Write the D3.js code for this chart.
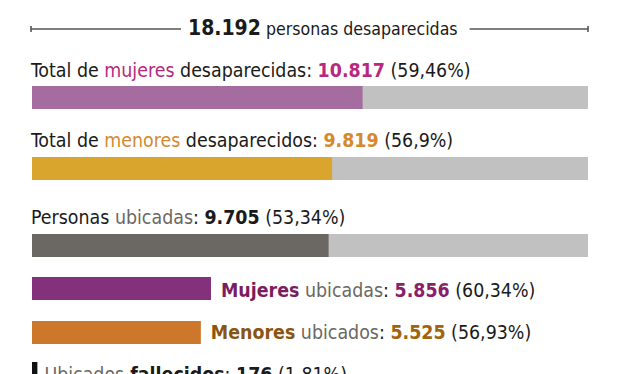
<!DOCTYPE html>
<html>
<head>
<meta charset="utf-8">
<script src="https://cdn.jsdelivr.net/npm/d3@7"></script>
<style>
  body { margin: 0; background: #fff; }
  svg text { font-family: 'Liberation Sans Narrow', 'DejaVu Sans Condensed', sans-serif; font-size: 19.4px; fill: #1a1a1a; }
  .b { font-weight: bold; }
</style>
</head>
<body>
<svg id="chart" width="640" height="374"></svg>
<script>
const total = 18192;
const barValues = [10817, 9819, 9705, 5856, 5525, 176];
const barPercents = ['59,46%', '56,9%', '53,34%', '60,34%', '56,93%', '1,81%'];
const barColors = ['#a56c9f', '#d9a52c', '#6b6762', '#82317a', '#cd772b', '#111111'];
// label pieces: [text, color, bold]
const labelParts = [
  [['Total de ', '#1a1a1a'], ['mujeres', '#b7297f'], [' desaparecidas: ', '#1a1a1a'], ['#v', '#b7297f', 1], ['#p', '#1a1a1a']],
  [['Total de ', '#1a1a1a'], ['menores', '#d4892f'], [' desaparecidos: ', '#1a1a1a'], ['#v', '#d4892f', 1], ['#p', '#1a1a1a']],
  [['Personas ', '#1a1a1a'], ['ubicadas', '#6b6762'], [': ', '#1a1a1a'], ['#v', '#1a1a1a', 1], ['#p', '#1a1a1a']],
  [['Mujeres', '#7a1d60', 1], [' ubicadas', '#6b6762'], [': ', '#1a1a1a'], ['#v', '#8a1f6a', 1], ['#p', '#1a1a1a']],
  [['Menores', '#8a5510', 1], [' ubicados', '#6b6762'], [': ', '#1a1a1a'], ['#v', '#a0640f', 1], ['#p', '#1a1a1a']],
  [['Ubicados', '#6b6762'], [' fallecidos', '#1a1a1a', 1], [': ', '#1a1a1a'], ['#v', '#1a1a1a', 1], ['#p', '#1a1a1a']]
];
const withTrack = [true, true, true, false, false, false];
const barTops = [86, 157, 234, 277, 321, 362];
const labelYs = [77, 147, 224, 297, 339, 381];

const fmt = d3.formatLocale({ decimal: ',', thousands: '.', grouping: [3], currency: ['', ''] }).format(',d');

const svg = d3.select('#chart');
const x = d3.scaleLinear().domain([0, total]).range([32, 588]);
const barH = 23;

// header
const head = svg.append('text').attr('x', 188).attr('y', 35);
head.append('tspan').attr('class', 'b').style('font-size', '21px').text(fmt(total));
head.append('tspan').style('font-size', '17.6px').text(' personas desaparecidas');
const hb = head.node().getBBox();
const lineY = 29;
[[x(0) - 1, hb.x - 7], [hb.x + hb.width + 12, x(total)]].forEach(([a, b]) => {
  svg.append('line').attr('x1', a).attr('x2', b).attr('y1', lineY).attr('y2', lineY)
    .attr('stroke', '#555').attr('stroke-width', 1.6);
});
[x(0) - 1, x(total)].forEach(px => {
  svg.append('line').attr('x1', px).attr('x2', px).attr('y1', lineY - 3).attr('y2', lineY + 3)
    .attr('stroke', '#555').attr('stroke-width', 1.6);
});

barValues.forEach((v, i) => {
  if (withTrack[i]) {
    svg.append('rect').attr('x', x(0)).attr('y', barTops[i])
      .attr('width', x(total) - x(0)).attr('height', barH).attr('fill', '#c1c1c1');
  }
  svg.append('rect').attr('x', x(0)).attr('y', barTops[i])
    .attr('width', x(v) - x(0)).attr('height', barH).attr('fill', barColors[i]);

  const lx = withTrack[i] ? 31 : (i === 5 ? x(v) + 7 : x(v) + 10);
  const t = svg.append('text').attr('x', lx).attr('y', labelYs[i]);
  labelParts[i].forEach(p => {
    let s = p[0];
    if (s === '#v') s = fmt(v);
    if (s === '#p') s = ' (' + barPercents[i] + ')';
    t.append('tspan').attr('fill', p[1]).attr('class', p[2] ? 'b' : null).text(s);
  });
});
</script>
</body>
</html>
